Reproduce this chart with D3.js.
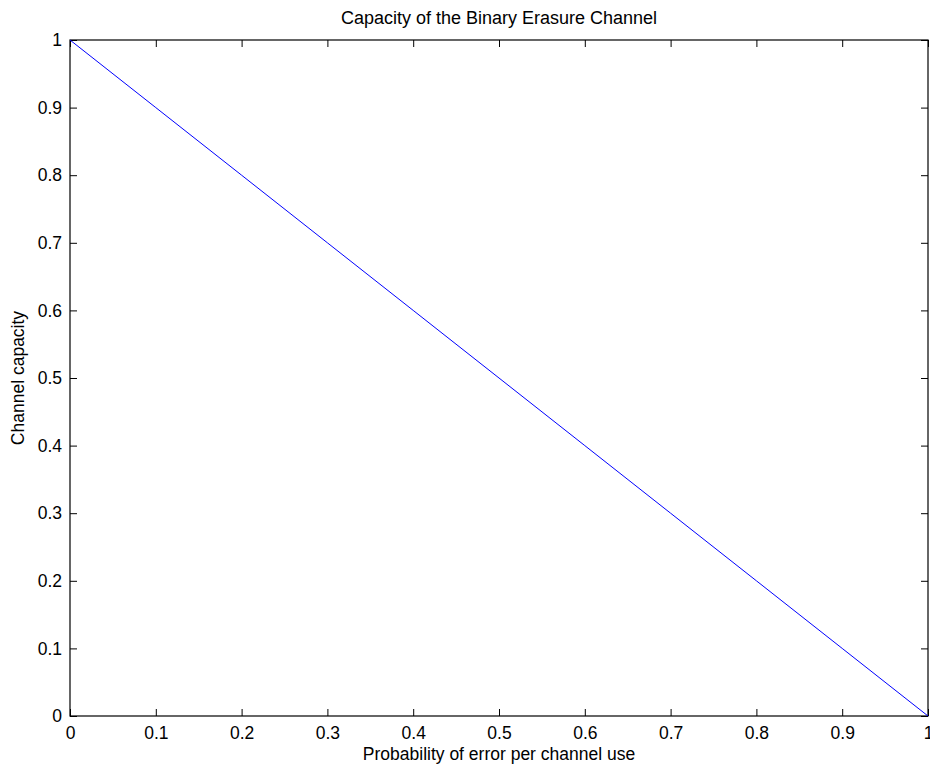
<!DOCTYPE html>
<html>
<head>
<meta charset="utf-8">
<script src="https://cdn.jsdelivr.net/npm/d3@7"></script>
<style>
  body { margin: 0; background: #fff; }
  text { font-family: "Liberation Sans", Arial, Helvetica, sans-serif; fill: #000; }
</style>
</head>
<body>
<div id="chart"></div>
<script>
// C = 1 - p for the binary erasure channel
let errorProb = [0, 0.1, 0.2, 0.3, 0.4, 0.5, 0.6, 0.7, 0.8, 0.9, 1];
let capacity  = [1, 0.9, 0.8, 0.7, 0.6, 0.5, 0.4, 0.3, 0.2, 0.1, 0];
let xTicks = [0, 0.1, 0.2, 0.3, 0.4, 0.5, 0.6, 0.7, 0.8, 0.9, 1];
let yTicks = [0, 0.1, 0.2, 0.3, 0.4, 0.5, 0.6, 0.7, 0.8, 0.9, 1];

let W = 930, H = 766;
let margin = {top: 40, right: 2, bottom: 50, left: 70};
let width = W - margin.left - margin.right;
let height = H - margin.top - margin.bottom;
let fontSize = "17.5px";

let svg = d3.select("#chart").append("svg")
    .attr("width", W)
    .attr("height", H);

let g = svg.append("g")
    .attr("transform", `translate(${margin.left}, ${margin.top})`);

let x = d3.scaleLinear().domain([0, 1]).range([0, width]);
let y = d3.scaleLinear().domain([0, 1]).range([height, 0]);

let fmt = d => d === 0 ? "0" : d === 1 ? "1" : d3.format(".1f")(d);

// axes, ticks pointing inward like matlab
g.append("g")
    .attr("transform", `translate(0, ${height})`)
    .call(d3.axisBottom(x).tickValues(xTicks).tickFormat(fmt).tickSizeInner(-7).tickSizeOuter(0).tickPadding(11))
    .call(a => a.select(".domain").remove())
    .selectAll("text").style("font-size", fontSize);

g.append("g")
    .call(d3.axisLeft(y).tickValues(yTicks).tickFormat(fmt).tickSizeInner(-7).tickSizeOuter(0).tickPadding(8))
    .call(a => a.select(".domain").remove())
    .selectAll("text").style("font-size", fontSize);

// top / right ticks
g.append("g")
    .call(d3.axisTop(x).tickValues(xTicks).tickFormat("").tickSizeInner(-7).tickSizeOuter(0))
    .call(a => a.select(".domain").remove());
g.append("g")
    .attr("transform", `translate(${width}, 0)`)
    .call(d3.axisRight(y).tickValues(yTicks).tickFormat("").tickSizeInner(-7).tickSizeOuter(0))
    .call(a => a.select(".domain").remove());

// box
g.append("rect")
    .attr("width", width)
    .attr("height", height)
    .attr("fill", "none")
    .attr("stroke", "#000")
    .attr("stroke-width", 1.2);

// the line
let line = d3.line()
    .x((d, i) => x(errorProb[i]))
    .y(d => y(d));

g.append("path")
    .datum(capacity)
    .attr("fill", "none")
    .attr("stroke", "#0000ff")
    .attr("stroke-width", 1)
    .attr("d", line);

// labels
svg.append("text")
    .attr("x", margin.left + width / 2)
    .attr("y", 24)
    .attr("text-anchor", "middle")
    .style("font-size", "18px")
    .text("Capacity of the Binary Erasure Channel");

svg.append("text")
    .attr("x", margin.left + width / 2)
    .attr("y", 760)
    .attr("text-anchor", "middle")
    .style("font-size", fontSize)
    .text("Probability of error per channel use");

svg.append("text")
    .attr("transform", `translate(24, ${margin.top + height / 2}) rotate(-90)`)
    .attr("text-anchor", "middle")
    .style("font-size", fontSize)
    .text("Channel capacity");
</script>
</body>
</html>
